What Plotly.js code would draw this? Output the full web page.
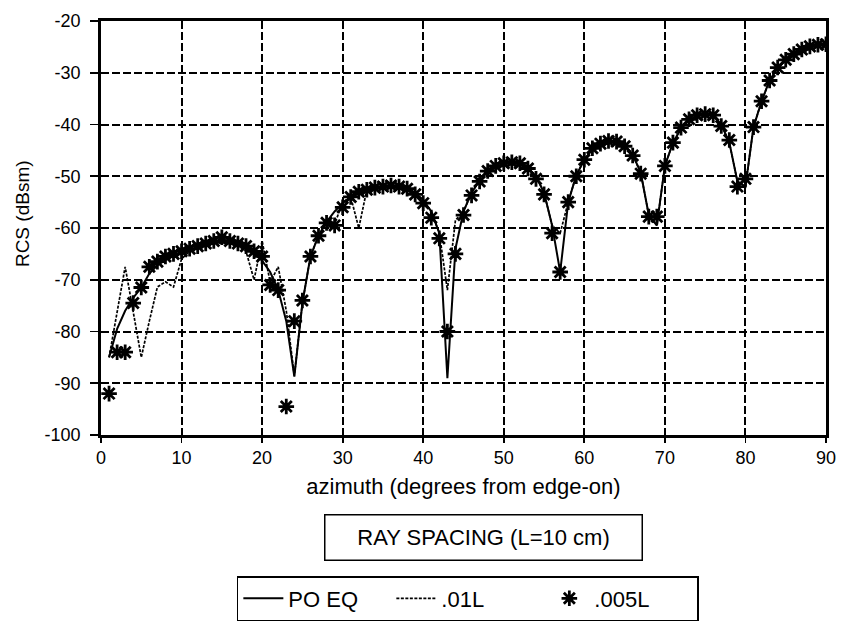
<!DOCTYPE html>
<html>
<head>
<meta charset="utf-8">
<script src="https://cdn.plot.ly/plotly-3.0.1.min.js"></script>
<style>html,body{margin:0;padding:0;background:#fff;}#chart{width:845px;height:621px;}</style>
</head>
<body>
<div id="chart"></div>
<script>
// azimuth angles (degrees from edge-on)
const azimuth = [1,2,3,4,5,6,7,8,9,10,11,12,13,14,15,16,17,18,19,20,21,22,23,24,25,26,27,28,29,30,31,32,33,34,35,36,37,38,39,40,41,42,43,44,45,46,47,48,49,50,51,52,53,54,55,56,57,58,59,60,61,62,63,64,65,66,67,68,69,70,71,72,73,74,75,76,77,78,79,80,81,82,83,84,85,86,87,88,89,90];

// PO EQ (solid line), RCS in dBsm
const poEq = [-85,-79.5,-76,-73.5,-71.5,-68.8,-67.2,-66.2,-65.4,-64.8,-64.2,-63.7,-63.2,-62.9,-62.8,-62.9,-63.3,-64,-65,-66.3,-68.5,-72,-78,-88.7,-74.5,-65.5,-61.5,-58.8,-56.8,-55.2,-54,-53.2,-52.6,-52.2,-52,-51.9,-52,-52.4,-53.2,-54.6,-56.8,-61,-89,-64,-56.8,-53.2,-50.8,-49.2,-48.2,-47.6,-47.4,-47.6,-48.4,-50,-53.2,-59.5,-68.5,-55,-49.8,-46.8,-44.8,-43.8,-43.3,-43.3,-44,-45.8,-49.3,-57.5,-59.5,-48,-43.5,-40.8,-39.2,-38.3,-38,-38.3,-40,-43.5,-51,-52,-40.5,-35.5,-31.5,-29,-27.5,-26.3,-25.5,-24.9,-24.6,-24.5];

// ray spacing .01L (dashed line)
const ray01L = [-85,-76.2,-67.5,-76.2,-85,-78,-71.4,-70.4,-71.4,-66,-64.5,-63.8,-63.3,-63,-62.9,-63,-63.4,-64.5,-70,-62.5,-70.5,-67.5,-76,-88.5,-74.5,-65.5,-61.5,-59,-59.3,-55,-54,-60,-52.6,-52.2,-52,-51.9,-52,-52.4,-53.2,-54.6,-56.8,-61,-72,-58.5,-56.8,-53.2,-50.8,-49.2,-48.2,-47.6,-47.4,-47.6,-48.4,-50,-53.2,-59.5,-61,-55,-49.8,-46.8,-44.8,-43.8,-43.3,-43.3,-44,-45.8,-49.3,-57.5,-59.5,-48,-43.5,-40.8,-39.2,-38.3,-38,-38.3,-40,-43.5,-51,-52,-40.5,-35.5,-31.5,-29,-27.5,-26.3,-25.5,-24.9,-24.6,-24.5];

// ray spacing .005L (asterisk markers)
const ray005L = [-92,-84,-84,-74.5,-71.5,-67.5,-66.5,-65.5,-65,-64.5,-64,-63.5,-63,-62.5,-61.8,-62.5,-63,-63.5,-64.5,-65.5,-71,-72,-94.5,-78,-74,-65.5,-61.5,-59,-59.5,-56,-54,-53,-52.6,-52.2,-52,-51.8,-52,-52.4,-53.5,-55.2,-58,-62,-80,-65,-57.5,-53.7,-51,-49,-48,-47.5,-47.3,-47.5,-48.5,-50.5,-53.5,-61,-68.5,-55,-50,-46.8,-44.6,-43.7,-43.2,-43.3,-44.2,-46,-49.5,-57.8,-57.8,-48,-43.5,-40.6,-39,-38.2,-38,-38.2,-40.3,-43,-52,-50.5,-40.5,-35.5,-31.5,-29,-27.5,-26.4,-25.5,-24.9,-24.6,-24.5];

const xTicks = [0,10,20,30,40,50,60,70,80,90];
const yTicks = [-100,-90,-80,-70,-60,-50,-40,-30,-20];

const FONT = 'Liberation Sans, Arial, Helvetica, sans-serif';

const traces = [
  {x: azimuth, y: poEq, name: 'PO EQ', type: 'scatter', mode: 'lines',
   line: {color: 'black', width: 2}},
  {x: azimuth, y: ray01L, name: '.01L', type: 'scatter', mode: 'lines',
   line: {color: 'black', width: 1.7, dash: '3px,1.5px'}},
  {x: azimuth, y: ray005L, name: '.005L', type: 'scatter', mode: 'markers',
   marker: {symbol: 'asterisk-open', size: 13, color: 'black', line: {color: 'black', width: 2.8}}}
];

const axisCommon = {
  showgrid: true, gridcolor: 'black', gridwidth: 2, griddash: '8px,3px',
  showline: true, linecolor: 'black', linewidth: 2.8, mirror: true,
  zeroline: false, ticks: 'outside', tickcolor: 'black', tickwidth: 1.8,
  tickfont: {family: FONT, size: 18, color: 'black'}
};

const layout = {
  width: 845, height: 621,
  margin: {l: 101, r: 19, t: 21, b: 186, autoexpand: false},
  paper_bgcolor: 'white', plot_bgcolor: 'white',
  font: {family: FONT, color: 'black'},
  showlegend: true,
  xaxis: Object.assign({}, axisCommon, {
    range: [0, 90], tickmode: 'array', tickvals: xTicks, ticktext: xTicks.map(String),
    ticklen: 5,
    title: {text: 'azimuth (degrees from edge-on)', font: {family: FONT, size: 22, color: 'black'}, standoff: 12}
  }),
  yaxis: Object.assign({}, axisCommon, {
    range: [-100, -20], tickmode: 'array', tickvals: yTicks, ticktext: yTicks.map(String),
    ticklen: 8, ticklabelstandoff: 6
  }),
  legend: {
    orientation: 'h', x: 0.506, xanchor: 'center', y: -0.3406, yanchor: 'top',
    bordercolor: 'black', borderwidth: 1.5, bgcolor: 'white',
    font: {family: FONT, size: 22, color: 'black'},
    entrywidth: 98, entrywidthmode: 'pixels', itemwidth: 40
  },
  annotations: [
    {text: 'RCS (dBsm)', xref: 'paper', yref: 'paper', x: -0.109, y: 0.536,
     textangle: -90, showarrow: false, xanchor: 'center', yanchor: 'middle',
     font: {family: FONT, size: 19, color: 'black'}},
    {text: 'RAY SPACING (L=10 cm)', xref: 'paper', yref: 'paper', x: 0.527, y: -0.2476,
     showarrow: false, xanchor: 'center', yanchor: 'middle',
     width: 300, height: 28, borderpad: 8, bordercolor: 'black', borderwidth: 1.5, bgcolor: 'white',
     font: {family: FONT, size: 22, color: 'black'}}
  ]
};

Plotly.newPlot('chart', traces, layout, {staticPlot: true, displayModeBar: false});
</script>
</body>
</html>
